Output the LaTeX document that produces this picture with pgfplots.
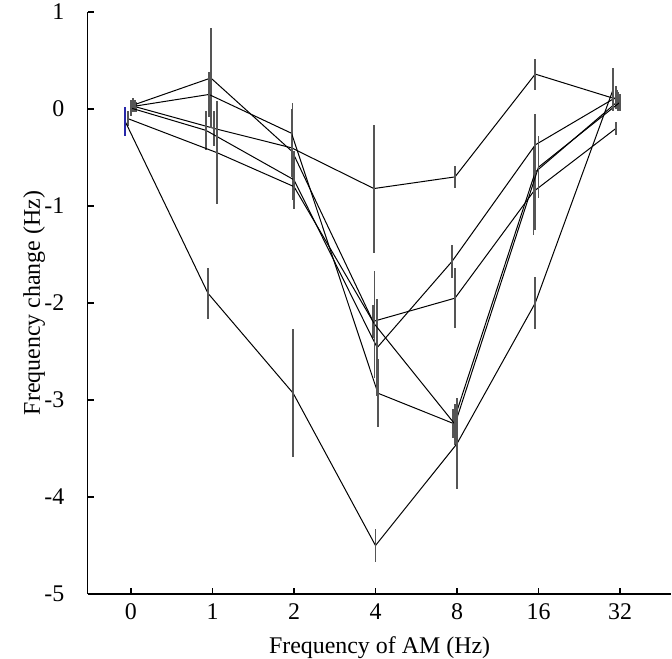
\documentclass[12pt,border=0pt]{standalone}
\usepackage{fontspec}
\setmainfont{Liberation Serif}
\usepackage{pgfplots}
\usepackage{pgfplotstable}
\pgfplotsset{compat=1.18}

\definecolor{barg}{RGB}{85,85,85}
\definecolor{barblue}{RGB}{40,40,170}

% x: category index (0,1,2,4,8,16,32 -> 0..6) with small jitter; y: mean; e: error
\pgfplotstableread{
x y e
0.07 0.02 0.05
1.02 -0.20 0.18
1.97 -0.40 0.30
2.98 -0.82 0.66
3.975 -0.70 0.11
4.96 0.36 0.16
5.96 0.10 0.10
}\serB
\pgfplotstableread{
x y e
0.025 0.04 0.07
0.98 0.32 0.52
1.98 -0.44 0.50
2.97 -2.19 0.17
3.975 -1.95 0.31
4.94 -0.85 0.45
5.95 -0.20 0.07
}\serC
\pgfplotstableread{
x y e
0.05 0.03 0.06
0.957 0.15 0.23
1.97 -0.25 0.25
3.03 -2.93 0.35
3.95 -3.24 0.15
4.96 -0.65 0.60
5.975 0.08 0.10
}\serD
\pgfplotstableread{
x y e
0.0 0.01 0.08
0.92 -0.22 0.20
2.0 -0.73 0.30
3.02 -2.46 0.50
3.94 -1.57 0.17
4.96 -0.37 0.30
5.95 0.12 0.12
}\serE
\pgfplotstableread{
x y e
-0.035 -0.10 0.08
1.055 -0.45 0.53
2.0 -0.80 0.20
2.99 -2.22 0.55
3.975 -3.25 0.21
5.0 -0.60 0.32
6.0 0.07 0.09
}\serF
\pgfplotstableread{
x y e
-0.07 -0.13 0
0.945 -1.90 0.26
1.99 -2.93 0.66
3.0 -4.50 0.17
4.0 -3.45 0.47
4.96 -2.00 0.27
5.915 0.20 0.22
}\serA

\begin{document}
\begin{tikzpicture}
\begin{axis}[
scale only axis,
width=291.8bp, height=291bp,
xmin=-0.53, xmax=6.63,
ymin=-5, ymax=1,
axis lines*=left,
axis line style={line width=0.65bp, black},
clip=false,
tick align=inside,
major tick length=3bp,
tick style={line width=0.6bp, black},
xtick={0,1,2,3,4,5,6},
xticklabels={0,1,2,4,8,16,32},
ytick={-5,-4,-3,-2,-1,0,1},
yticklabels={-5,-4,-3,-2,-1,0,1},
x tick label style={inner sep=0pt, anchor=north, yshift=-4.5bp},
y tick label style={inner sep=0pt, anchor=east, xshift=-11.5bp},
xlabel={Frequency of AM (Hz)},
ylabel={Frequency change (Hz)},
every axis x label/.style={at={(axis description cs:0.5,0)}, anchor=north, inner sep=0pt, yshift=-21bp},
every axis y label/.style={at={(axis description cs:0,0.5)}, rotate=90, anchor=north, inner sep=0pt, yshift=32.5bp},
every axis plot/.append style={black, line width=0.5bp},
eb/.style={error bars/.cd, y dir=both, y explicit, error mark=none,
  error bar style={barg, line width=0.8bp, solid}},
]
\addplot[eb] table[x=x, y=y, y error=e] {\serB};
\addplot[eb] table[x=x, y=y, y error=e] {\serC};
\addplot[eb] table[x=x, y=y, y error=e] {\serD};
\addplot[eb] table[x=x, y=y, y error=e] {\serE};
\addplot[eb] table[x=x, y=y, y error=e] {\serF};
\addplot[eb] table[x=x, y=y, y error=e] {\serA};
% first point of the lowest series has a blue bar
\addplot[draw=none, error bars/.cd, y dir=both, y explicit, error mark=none,
  error bar style={barblue, line width=0.8bp}]
  coordinates {(-0.07,-0.13) +- (0,0.15)};
% page extent
\path (axis cs:-1.607,1.124) (axis cs:6.638,-5.67);
\end{axis}
\end{tikzpicture}
\end{document}
